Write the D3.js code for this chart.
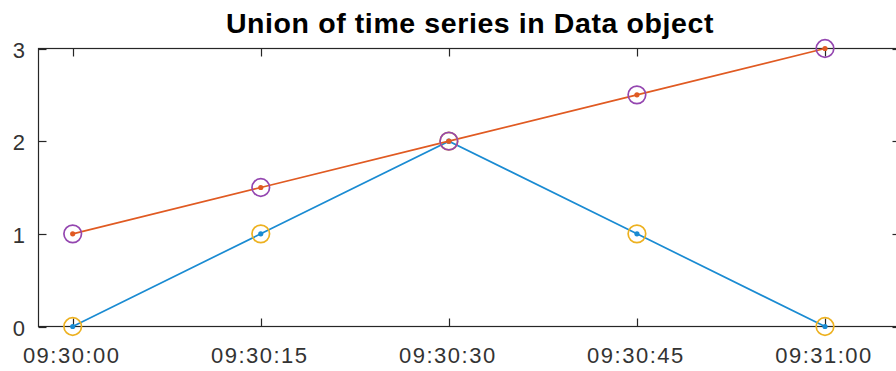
<!DOCTYPE html>
<html><head><meta charset="utf-8">
<script src="https://cdn.jsdelivr.net/npm/d3@7"></script>
<style>html,body{margin:0;padding:0;background:#fff;}svg{display:block;}</style>
</head><body>
<svg id="chart" width="896" height="371"></svg>
<script>
const times = ["09:30:00","09:30:15","09:30:30","09:30:45","09:31:00"];
const seriesA = [0, 1, 2, 1, 0];
const seriesB = [1, 1.5, 2, 2.5, 3];
const yTicks = [0, 1, 2, 3];
const titleText = "Union of time series in Data object";

const parse = d3.timeParse("%H:%M:%S");
const tDates = times.map(parse);
const svg = d3.select("#chart");

const mLeft = 38.5, mRight = 900.5, mTop = 48.5, mBottom = 326.5;
const x = d3.scaleTime().domain([tDates[0], tDates[4]]).range([72.7, 825]);
const y = d3.scaleLinear().domain([0, 3]).range([mBottom, mTop]);

const axisColor = "#262626";
svg.append("rect").attr("x", mLeft).attr("y", mTop).attr("width", mRight-mLeft).attr("height", mBottom-mTop)
  .attr("fill", "none").attr("stroke", axisColor).attr("stroke-width", 1.2);

const tickLen = 8;
tDates.forEach(d => {
  const px = Math.round(x(d)) + 0.5;
  svg.append("line").attr("x1", px).attr("x2", px).attr("y1", mBottom).attr("y2", mBottom - tickLen).attr("stroke", axisColor).attr("stroke-width", 1.2);
  svg.append("line").attr("x1", px).attr("x2", px).attr("y1", mTop).attr("y2", mTop + tickLen).attr("stroke", axisColor).attr("stroke-width", 1.2);
});
yTicks.forEach(v => {
  const py = Math.round(y(v)) + 0.5;
  svg.append("line").attr("x1", mLeft).attr("x2", mLeft + tickLen).attr("y1", py).attr("y2", py).attr("stroke", axisColor).attr("stroke-width", 1.2);
  svg.append("line").attr("x1", mRight).attr("x2", mRight - tickLen).attr("y1", py).attr("y2", py).attr("stroke", axisColor).attr("stroke-width", 1.2);
});

const font = "'Liberation Sans', Arial, Helvetica, sans-serif";
svg.append("g").selectAll("text").data(tDates).join("text")
  .attr("x", d => x(d) - 1).attr("y", 363)
  .attr("text-anchor", "middle").attr("font-family", font).attr("font-size", 22)
  .attr("letter-spacing", 1.5).attr("fill", "#333")
  .text((d, i) => times[i]);
svg.append("g").selectAll("text").data(yTicks).join("text")
  .attr("x", 25).attr("y", d => y(d) + 9)
  .attr("text-anchor", "end").attr("font-family", font).attr("font-size", 22)
  .attr("fill", "#333")
  .text(d => d);

svg.append("text").attr("x", 470).attr("y", 33).attr("text-anchor", "middle")
  .attr("font-family", font).attr("font-size", 28.5).attr("font-weight", "bold")
  .attr("letter-spacing", 0.6).attr("fill", "#000").text(titleText);

const line = d3.line().x(d => x(d[0])).y(d => y(d[1]));
const series = [
  {vals: seriesA, color: "#1a8bd2", circle: "#EDB120"},
  {vals: seriesB, color: "#e05a22", circle: "#9446b0"}
];
series.forEach(s => {
  const pts = tDates.map((d, i) => [d, s.vals[i]]);
  svg.append("path").datum(pts).attr("d", line).attr("fill", "none")
    .attr("stroke", s.color).attr("stroke-width", 1.7);
  svg.append("g").selectAll("circle").data(pts).join("circle")
    .attr("cx", d => x(d[0])).attr("cy", d => y(d[1])).attr("r", 2.6).attr("fill", s.color);
});
series.forEach(s => {
  const pts = tDates.map((d, i) => [d, s.vals[i]]);
  svg.append("g").selectAll("circle").data(pts).join("circle")
    .attr("cx", d => x(d[0])).attr("cy", d => y(d[1])).attr("r", 8.8)
    .attr("fill", "none").attr("stroke", s.circle).attr("stroke-width", 1.7);
});
</script>
</body></html>
